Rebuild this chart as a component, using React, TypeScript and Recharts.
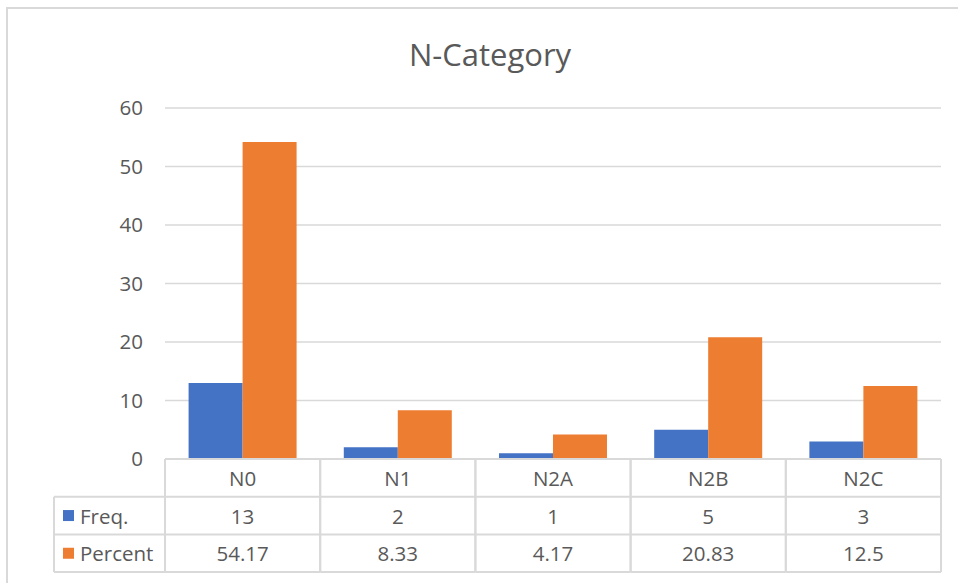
import React from "react";
import { BarChart, Bar, XAxis, YAxis, CartesianGrid } from "recharts";

const categories = ["N0", "N1", "N2A", "N2B", "N2C"];
const freqValues = [13, 2, 1, 5, 3];
const percentValues = [54.17, 8.33, 4.17, 20.83, 12.5];
const yTicks = [0, 10, 20, 30, 40, 50, 60];
const seriesNames = ["Freq.", "Percent"];

const data = categories.map((c, i) => ({
  name: c,
  freq: freqValues[i],
  percent: percentValues[i],
}));

const W = 958;
const H = 583;
const MARGIN = { top: 108, right: 17, left: 0, bottom: 0 };
const YAXIS_W = 165;
const XAXIS_H = 124;
const PLOT_W = W - MARGIN.left - MARGIN.right - YAXIS_W;
const ROW_H = 37.7;
const LEGEND_LEFT = 54;
const BLUE = "#4472C4";
const ORANGE = "#ED7D31";
const LINE = "#d9d9d9";
const TEXT = "#595959";
const FONT = "'Open Sans', 'Liberation Sans', sans-serif";
const FS = 20.5;

const TableTick = (props: any) => {
  const { x, y, index, payload } = props;
  const colW = PLOT_W / categories.length;
  const left = x - colW / 2;
  const right = x + colW / 2;
  const i = index;
  const colors = [BLUE, ORANGE];
  const values = [freqValues[i], percentValues[i]];
  return (
    <g>
      <line x1={left} x2={left} y1={y} y2={y + ROW_H * 3} stroke={LINE} strokeWidth={2} />
      <line x1={right} x2={right} y1={y} y2={y + ROW_H * 3} stroke={LINE} strokeWidth={2} />
      {[1, 2, 3].map((r) => (
        <line key={r} x1={left} x2={right} y1={y + ROW_H * r} y2={y + ROW_H * r} stroke={LINE} strokeWidth={2} />
      ))}
      <text x={x} y={y + ROW_H / 2} textAnchor="middle" dominantBaseline="central" fill={TEXT} fontSize={FS} fontFamily={FONT}>
        {payload.value}
      </text>
      {values.map((v, r) => (
        <text key={r} x={x} y={y + ROW_H * (r + 1.5)} textAnchor="middle" dominantBaseline="central" fill={TEXT} fontSize={FS} fontFamily={FONT}>
          {String(v)}
        </text>
      ))}
      {i === 0 && (
        <g>
          <line x1={LEGEND_LEFT} x2={LEGEND_LEFT} y1={y + ROW_H} y2={y + ROW_H * 3} stroke={LINE} strokeWidth={2} />
          {[1, 2, 3].map((r) => (
            <line key={r} x1={LEGEND_LEFT} x2={left} y1={y + ROW_H * r} y2={y + ROW_H * r} stroke={LINE} strokeWidth={2} />
          ))}
          {seriesNames.map((s, r) => (
            <g key={s}>
              <rect x={LEGEND_LEFT + 9} y={y + ROW_H * (r + 1.5) - 5.5} width={11} height={11} fill={colors[r]} />
              <text x={LEGEND_LEFT + 26} y={y + ROW_H * (r + 1.5)} dominantBaseline="central" fill={TEXT} fontSize={FS} fontFamily={FONT}>
                {s}
              </text>
            </g>
          ))}
        </g>
      )}
    </g>
  );
};

export default function App() {
  return (
    <div style={{ position: "absolute", left: 0, top: 0, width: W, height: H, background: "#fff", overflow: "hidden" }}>
      <div
        style={{
          position: "absolute",
          left: 6,
          top: 7,
          width: W,
          height: H,
          borderTop: `2px solid ${LINE}`,
          borderLeft: `2px solid ${LINE}`,
          boxSizing: "border-box",
        }}
      />
      <div
        style={{
          position: "absolute",
          left: 0,
          top: 31,
          width: 980,
          textAlign: "center",
          fontFamily: FONT,
          fontSize: 31,
          color: TEXT,
          lineHeight: "46px",
        }}
      >
        N-Category
      </div>
      <div style={{ position: "absolute", left: 0, top: 0 }}>
        <BarChart width={W} height={H} data={data} margin={MARGIN} barCategoryGap="15.2%" barGap={0}>
          <CartesianGrid vertical={false} stroke={LINE} strokeWidth={1.5} />
          <XAxis
            dataKey="name"
            height={XAXIS_H}
            axisLine={{ stroke: LINE, strokeWidth: 2 }}
            tickLine={false}
            tickSize={0}
            tickMargin={0}
            tick={<TableTick />}
            interval={0}
          />
          <YAxis
            width={YAXIS_W}
            domain={[0, 60]}
            ticks={yTicks}
            axisLine={false}
            tickLine={false}
            tickMargin={16}
            tick={{ fill: TEXT, fontSize: FS, fontFamily: FONT }}
          />
          <Bar dataKey="freq" name={seriesNames[0]} fill={BLUE} isAnimationActive={false} />
          <Bar dataKey="percent" name={seriesNames[1]} fill={ORANGE} isAnimationActive={false} />
        </BarChart>
      </div>
    </div>
  );
}
